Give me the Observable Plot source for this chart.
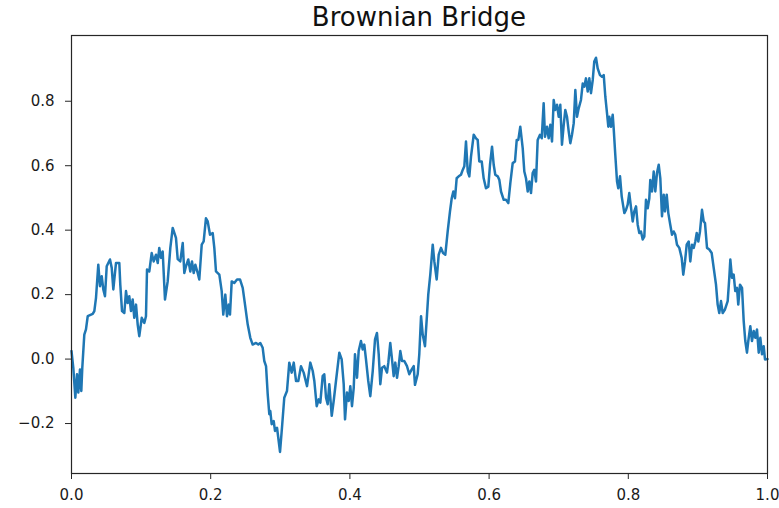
<!DOCTYPE html>
<html>
<head>
<meta charset="utf-8">
<script src="https://cdn.jsdelivr.net/npm/d3@7"></script>
<script src="https://cdn.jsdelivr.net/npm/@observablehq/plot@0.6"></script>
<style>
  html, body { margin: 0; padding: 0; background: #fff; }
  #title {
    margin-left: 71px;
    width: 696px;
    height: 34px;
    line-height: 35px;
    text-align: center;
    font-family: "DejaVu Sans", sans-serif;
    font-size: 26px;
    color: #111;
    white-space: nowrap;
  }
  #chart svg { display: block; }
</style>
</head>
<body>
<div id="title">Brownian Bridge</div>
<div id="chart"></div>
<script>
// One sampled path of a Brownian bridge pinned to 0 at t = 0 and t = 1.
const t = [
  0, 0.0026, 0.0055, 0.0079, 0.0098, 0.0122, 0.0141, 0.0155, 0.0184, 0.0208,
  0.0233, 0.0305, 0.0328, 0.0352, 0.0385, 0.0409, 0.0434, 0.0457, 0.0481, 0.0506,
  0.0553, 0.0578, 0.0601, 0.0639, 0.0687, 0.0701, 0.0726, 0.0759, 0.0783, 0.0807,
  0.0830, 0.0855, 0.0879, 0.0902, 0.0927, 0.0951, 0.0974, 0.1009, 0.1046, 0.1070,
  0.1085, 0.1118, 0.1152, 0.1181, 0.1214, 0.1239, 0.1261, 0.1286, 0.1310, 0.1343,
  0.1382, 0.1420, 0.1454, 0.1501, 0.1526, 0.1563, 0.1598, 0.1621, 0.1645, 0.1678,
  0.1707, 0.1731, 0.1756, 0.1779, 0.1813, 0.1836, 0.1871, 0.1899, 0.1932, 0.1957,
  0.1990, 0.2029, 0.2052, 0.2076, 0.2124, 0.2158, 0.2181, 0.2210, 0.2234, 0.2259,
  0.2277, 0.2302, 0.2339, 0.2378, 0.2421, 0.2460, 0.2493, 0.2532, 0.2569, 0.2603,
  0.2651, 0.2684, 0.2713, 0.2747, 0.2770, 0.2795, 0.2819, 0.2842, 0.2856, 0.2876,
  0.2905, 0.2924, 0.2953, 0.2971, 0.2996, 0.3024, 0.3057, 0.3096, 0.3129, 0.3164,
  0.3193, 0.3226, 0.3259, 0.3297, 0.3336, 0.3384, 0.3431, 0.3466, 0.3489, 0.3523,
  0.3552, 0.3575, 0.3609, 0.3632, 0.3657, 0.3681, 0.3704, 0.3739, 0.3767, 0.3800,
  0.3848, 0.3882, 0.3911, 0.3930, 0.3958, 0.3983, 0.4006, 0.4030, 0.4055, 0.4073,
  0.4102, 0.4126, 0.4159, 0.4184, 0.4207, 0.4231, 0.4264, 0.4293, 0.4328, 0.4361,
  0.4389, 0.4414, 0.4437, 0.4461, 0.4494, 0.4533, 0.4552, 0.4580, 0.4605, 0.4629,
  0.4652, 0.4677, 0.4701, 0.4724, 0.4749, 0.4782, 0.4820, 0.4853, 0.4888, 0.4917,
  0.4935, 0.4974, 0.4997, 0.5022, 0.5046, 0.5079, 0.5108, 0.5126, 0.5155, 0.5190,
  0.5213, 0.5247, 0.5276, 0.5309, 0.5338, 0.5371, 0.5405, 0.5438, 0.5463, 0.5486,
  0.5510, 0.5534, 0.5563, 0.5596, 0.5621, 0.5644, 0.5668, 0.5693, 0.5716, 0.5740,
  0.5779, 0.5812, 0.5836, 0.5859, 0.5894, 0.5922, 0.5955, 0.5989, 0.6013, 0.6042,
  0.6066, 0.6089, 0.6124, 0.6147, 0.6171, 0.6210, 0.6243, 0.6276, 0.6305, 0.6339,
  0.6372, 0.6397, 0.6420, 0.6448, 0.6483, 0.6506, 0.6530, 0.6555, 0.6578, 0.6602,
  0.6626, 0.6649, 0.6674, 0.6698, 0.6731, 0.6756, 0.6784, 0.6803, 0.6832, 0.6856,
  0.6879, 0.6904, 0.6928, 0.6951, 0.6976, 0.7000, 0.7023, 0.7047, 0.7072, 0.7095,
  0.7119, 0.7144, 0.7167, 0.7191, 0.7216, 0.7239, 0.7263, 0.7287, 0.7320, 0.7345,
  0.7368, 0.7392, 0.7417, 0.7440, 0.7464, 0.7489, 0.7511, 0.7536, 0.7560, 0.7593,
  0.7622, 0.7647, 0.7670, 0.7694, 0.7713, 0.7727, 0.7751, 0.7776, 0.7790, 0.7813,
  0.7838, 0.7856, 0.7881, 0.7905, 0.7943, 0.7967, 0.7991, 0.8014, 0.8063, 0.8086,
  0.8111, 0.8135, 0.8158, 0.8182, 0.8207, 0.8230, 0.8254, 0.8279, 0.8302, 0.8316,
  0.8341, 0.8365, 0.8388, 0.8412, 0.8437, 0.8460, 0.8484, 0.8509, 0.8527, 0.8552,
  0.8575, 0.8603, 0.8628, 0.8652, 0.8675, 0.8700, 0.8733, 0.8767, 0.8790, 0.8815,
  0.8839, 0.8868, 0.8891, 0.8915, 0.8940, 0.8963, 0.8983, 0.9006, 0.9030, 0.9059,
  0.9083, 0.9102, 0.9131, 0.9164, 0.9198, 0.9227, 0.9260, 0.9284, 0.9307, 0.9332,
  0.9356, 0.9389, 0.9428, 0.9451, 0.9466, 0.9490, 0.9514, 0.9537, 0.9562, 0.9580,
  0.9605, 0.9634, 0.9658, 0.9681, 0.9705, 0.9724, 0.9753, 0.9777, 0.9802, 0.9825,
  0.9849, 0.9874, 0.9897, 0.9921, 0.9945, 0.9964, 1.0
];
const value = [
  0.025, -0.027, -0.12, -0.047, -0.104, -0.032, -0.099, -0.027, 0.076, 0.092,
  0.133, 0.14, 0.149, 0.19, 0.293, 0.226, 0.257, 0.216, 0.195, 0.288,
  0.309, 0.283, 0.216, 0.298, 0.298, 0.231, 0.149, 0.143, 0.211, 0.174,
  0.195, 0.149, 0.185, 0.128, 0.169, 0.107, 0.071, 0.128, 0.112, 0.133,
  0.278, 0.272, 0.329, 0.303, 0.324, 0.298, 0.345, 0.314, 0.334, 0.185,
  0.241, 0.345, 0.407, 0.376, 0.31, 0.303, 0.36, 0.267, 0.288, 0.309,
  0.272, 0.303, 0.267, 0.293, 0.267, 0.247, 0.355, 0.365, 0.437, 0.427,
  0.386, 0.391, 0.345, 0.272, 0.262, 0.211, 0.138, 0.2, 0.133, 0.169,
  0.138, 0.241, 0.236, 0.247, 0.247, 0.221, 0.169, 0.107, 0.066, 0.045,
  0.05, 0.045, 0.05, 0.035, -0.006, -0.022, -0.109, -0.171, -0.161, -0.202,
  -0.192, -0.223, -0.213, -0.244, -0.288, -0.213, -0.12, -0.099, -0.011, -0.042,
  -0.011, -0.068, -0.068, -0.022, -0.042, -0.084, -0.011, -0.037, -0.068, -0.146,
  -0.125, -0.135, -0.053, -0.047, -0.12, -0.14, -0.078, -0.176, -0.13, -0.068,
  0.02, -0.001, -0.078, -0.187, -0.104, -0.13, -0.084, -0.146, -0.089, 0.015,
  -0.058, 0.025, 0.056, 0.03, 0.045, -0.001, -0.068, -0.115, -0.037, 0.061,
  0.081, 0.015, -0.078, -0.027, -0.022, -0.042, -0.011, 0.05, -0.001, -0.053,
  -0.011, -0.058, -0.022, 0.025, -0.006, -0.006, -0.022, -0.047, -0.032, -0.022,
  -0.08, -0.047, 0.015, 0.133, 0.076, 0.04, 0.138, 0.2, 0.262, 0.355,
  0.303, 0.247, 0.324, 0.345, 0.329, 0.324, 0.396, 0.458, 0.499, 0.52,
  0.499, 0.561, 0.567, 0.572, 0.587, 0.598, 0.675, 0.582, 0.567, 0.628,
  0.696, 0.685, 0.68, 0.613, 0.613, 0.561, 0.53, 0.535, 0.603, 0.659,
  0.603, 0.572, 0.567, 0.556, 0.52, 0.494, 0.494, 0.484, 0.546, 0.608,
  0.613, 0.68, 0.68, 0.721, 0.654, 0.582, 0.561, 0.52, 0.551, 0.515,
  0.577, 0.587, 0.551, 0.68, 0.696, 0.685, 0.794, 0.69, 0.721, 0.685,
  0.727, 0.675, 0.804, 0.773, 0.789, 0.752, 0.789, 0.665, 0.727, 0.773,
  0.752, 0.706, 0.67, 0.696, 0.732, 0.835, 0.752, 0.778, 0.804, 0.855,
  0.845, 0.871, 0.83, 0.871, 0.825, 0.866, 0.923, 0.935, 0.902, 0.881,
  0.876, 0.881, 0.814, 0.763, 0.721, 0.752, 0.721, 0.758, 0.716, 0.634,
  0.551, 0.53, 0.567, 0.505, 0.453, 0.463, 0.479, 0.515, 0.427, 0.458,
  0.474, 0.417, 0.391, 0.396, 0.371, 0.38, 0.494, 0.468, 0.499, 0.556,
  0.52, 0.582, 0.52, 0.577, 0.603, 0.561, 0.443, 0.51, 0.458, 0.51,
  0.453, 0.417, 0.386, 0.396, 0.386, 0.355, 0.345, 0.314, 0.262, 0.303,
  0.355, 0.365, 0.303, 0.355, 0.345, 0.365, 0.391, 0.365, 0.396, 0.463,
  0.427, 0.422, 0.345, 0.34, 0.329, 0.283, 0.231, 0.169, 0.143, 0.18,
  0.143, 0.154, 0.18, 0.252, 0.309, 0.252, 0.262, 0.211, 0.221, 0.169,
  0.231, 0.221, 0.118, 0.056, 0.02, 0.056, 0.102, 0.056, 0.087, 0.066,
  0.092, 0.02, 0.066, 0.015, 0.04, -0.001, 0
];

const xTicks = [0, 0.2, 0.4, 0.6, 0.8, 1.0];
const yTicks = [-0.2, 0, 0.2, 0.4, 0.6, 0.8];
const xDomain = [0, 1];
const yDomain = [-0.355, 1.004];

const path = t.map((ti, i) => ({t: ti, v: value[i]}));
const fmt = d3.format(".1f");

const chart = Plot.plot({
  width: 779,
  height: 474,
  marginTop: 1,
  marginBottom: 35,
  marginLeft: 71,
  marginRight: 12,
  style: {
    fontFamily: "DejaVu Sans, sans-serif",
    fontSize: "15px",
    color: "#1a1a1a",
    background: "#fff",
    overflow: "visible"
  },
  x: {domain: xDomain},
  y: {domain: yDomain},
  marks: [
    Plot.line(path, {x: "t", y: "v", stroke: "#1f77b4", strokeWidth: 2.5}),
    Plot.frame({stroke: "#262626", strokeWidth: 1.2}),
    Plot.axisX({ticks: xTicks, tickFormat: fmt, tickSize: 6, tickPadding: 10, label: null, stroke: "#262626"}),
    Plot.axisY({ticks: yTicks, tickFormat: fmt, tickSize: 6, tickPadding: 11, label: null, stroke: "#262626"})
  ]
});

document.getElementById("chart").appendChild(chart);
</script>
</body>
</html>
